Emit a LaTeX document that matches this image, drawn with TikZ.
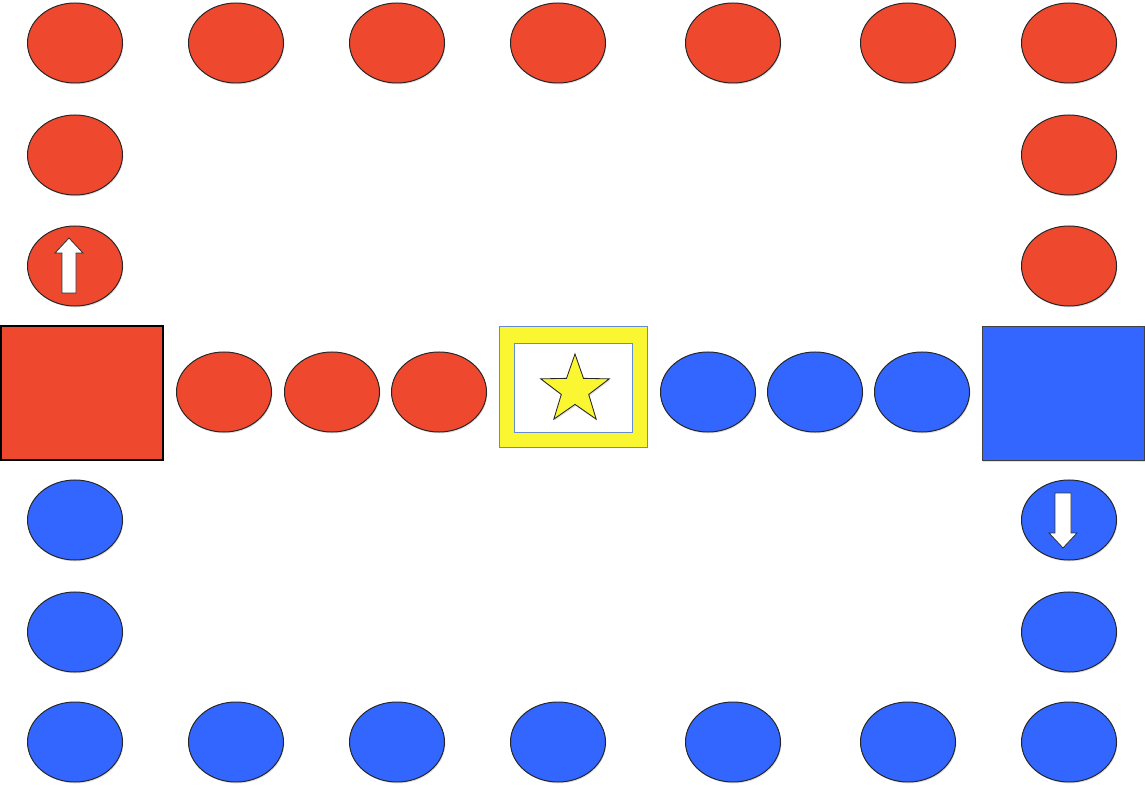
\documentclass[tikz,border=0pt]{standalone}
\usepackage{tikz}
\usetikzlibrary{shapes.geometric, shadows}

\definecolor{tokenred}{RGB}{238,72,47}
\definecolor{tokenblue}{RGB}{51,102,255}
\definecolor{staryellow}{RGB}{250,246,50}
\definecolor{frameblue}{RGB}{100,140,210}

\tikzset{
    token/.style={ellipse, draw=black!85, line width=0.7pt, minimum width=2.375cm, minimum height=2cm, inner sep=0pt,
        drop shadow={opacity=0.25, shadow xshift=0.6pt, shadow yshift=-1pt}},
    redtoken/.style={token, fill=tokenred},
    bluetoken/.style={token, fill=tokenblue},
    homebox/.style={rectangle, minimum width=4.05cm, minimum height=3.35cm, inner sep=0pt,
        drop shadow={opacity=0.25, shadow xshift=0.6pt, shadow yshift=-1pt}},
    blockarrow/.style={fill=white, draw=black!80, line width=0.6pt, line join=miter}
}

\begin{document}
\begin{tikzpicture}[x=0.025cm, y=-0.025cm]
    \useasboundingbox (0,0) rectangle (1145,787);

    % Top row (red)
    \foreach \x [count=\i] in {75,236,397,558,733,908,1069}
        \node[redtoken] (top\i) at (\x,43) {};

    % Bottom row (blue)
    \foreach \x [count=\i] in {75,236,397,558,733,908,1069}
        \node[bluetoken] (bot\i) at (\x,742) {};

    % Left column
    \node[redtoken] (left1) at (75,155) {};
    \node[redtoken] (left2) at (75,266) {};
    \node[bluetoken] (left3) at (75,520) {};
    \node[bluetoken] (left4) at (75,632) {};

    % Right column
    \node[redtoken] (right1) at (1069,155) {};
    \node[redtoken] (right2) at (1069,266) {};
    \node[bluetoken] (right3) at (1069,520) {};
    \node[bluetoken] (right4) at (1069,632) {};

    % Home squares
    \node[homebox, fill=tokenred, draw=black, line width=1.6pt] (redhome) at (82,393) {};
    \node[homebox, fill=tokenblue, draw=black!75, line width=0.7pt] (bluehome) at (1063.5,393.5) {};

    % Middle lane
    \foreach \x [count=\i] in {224,332,439}
        \node[redtoken] (redlane\i) at (\x,392) {};
    \foreach \x [count=\i] in {708,815,922}
        \node[bluetoken] (bluelane\i) at (\x,392) {};

    % Centre goal with star
    \node[rectangle, fill=staryellow, draw=frameblue, line width=0.6pt, minimum width=3.7cm, minimum height=3.025cm, inner sep=0pt,
        drop shadow={opacity=0.25, shadow xshift=0.6pt, shadow yshift=-1pt}] (goal) at (573,386.5) {};
    \node[rectangle, fill=white, draw=frameblue, line width=0.6pt, minimum width=2.95cm, minimum height=2.225cm, inner sep=0pt] (goalin) at (573,387.5) {};
    \node[star, star points=5, star point ratio=2.5, fill=staryellow, draw=black!85, line width=0.6pt, minimum size=1.8cm, inner sep=0pt,
        drop shadow={opacity=0.25, shadow xshift=0.6pt, shadow yshift=-1pt}] (goalstar) at (575,390) {};

    % Direction arrows
    \draw[blockarrow, shift={(left2.center)}] (-13,27) -- (-13,-13) -- (-20,-13) -- (-6,-28) -- (8,-13) -- (1,-13) -- (1,27) -- cycle;
    \draw[blockarrow, shift={(right3.center)}] (-14,-27) -- (-14,13) -- (-20,13) -- (-6,28) -- (8,13) -- (2,13) -- (2,-27) -- cycle;
\end{tikzpicture}
\end{document}
